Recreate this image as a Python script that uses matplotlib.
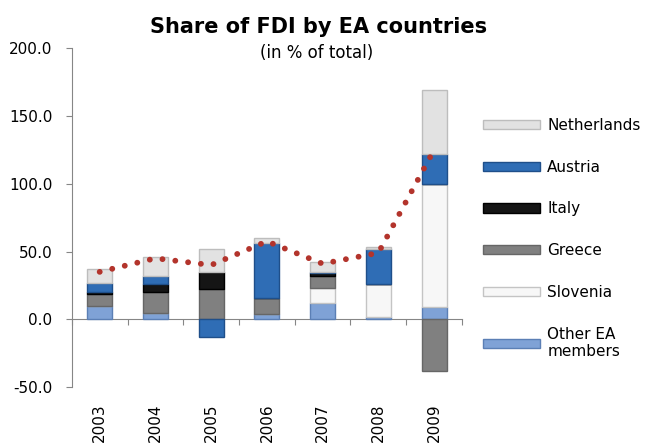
import matplotlib.pyplot as plt
from matplotlib.patches import Patch
import numpy as np

years = ['2003', '2004', '2005', '2006', '2007', '2008', '2009']
other_ea = [10, 5, 0, 4, 12, 2, 9]
slovenia = [0, 0, 0, 0, 11, 24, 91]
greece = [9, 15, 22, 12, 9, 0, -38]
italy = [1, 6, 13, 0, 2, 0, 0]
austria = [7, 6, -13, 40, 1, 26, 22]
netherlands = [10, 14, 17, 4, 7, 1, 47]
total = [35, 45, 40, 57.5, 41, 49, 125]

# stacking order bottom -> top
series = [
    ('Other EA\nmembers', other_ea, '#7fa2d6', '#5b7fb5'),
    ('Slovenia', slovenia, '#f7f7f7', '#c4c4c4'),
    ('Greece', greece, '#808080', '#666666'),
    ('Italy', italy, '#151515', '#000000'),
    ('Austria', austria, '#2f6db5', '#1f4f8a'),
    ('Netherlands', netherlands, '#e2e2e2', '#bdbdbd'),
]

fig = plt.figure(figsize=(6.47, 4.45), dpi=100)
ax = fig.add_axes([0.111, 0.130, 0.603, 0.762])

x = np.arange(len(years))
pos_base = np.zeros(len(years))
neg_base = np.zeros(len(years))
for name, vals, fc, ec in series:
    v = np.array(vals, dtype=float)
    base = np.where(v >= 0, pos_base, neg_base)
    ax.bar(x, v, bottom=base, width=0.45, color=fc, edgecolor=ec, linewidth=1, zorder=2)
    pos_base += np.where(v > 0, v, 0)
    neg_base += np.where(v < 0, v, 0)

ax.plot(x, total, color='#b3342c', linewidth=4.2, linestyle=(0, (0.01, 2.2)),
        dash_capstyle='round', zorder=3)

ax.set_xlim(-0.5, len(years) - 0.5)
ax.set_ylim(-50, 200)
ax.set_yticks([-50, 0, 50, 100, 150, 200])
ax.set_yticklabels(['-50.0', '0.0', '50.0', '100.0', '150.0', '200.0'])

for s in ['top', 'right', 'bottom']:
    ax.spines[s].set_visible(False)
ax.spines['left'].set_color('#868686')
ax.tick_params(axis='y', colors='#868686', labelcolor='black', labelsize=11, length=4, pad=10)

ax.set_xticks(x)
ax.set_xticklabels(years, rotation=90, fontsize=11)
ax.tick_params(axis='x', length=0, pad=12)

# zero axis line with category boundary ticks
zero_frac = 50 / 250
sec = ax.secondary_xaxis(zero_frac)
sec.set_xticks(np.arange(-0.5, len(years), 1))
sec.set_xticklabels([])
sec.spines['bottom'].set_color('#868686')
sec.tick_params(axis='x', colors='#868686', length=4, direction='out')

fig.text(0.492, 0.940, 'Share of FDI by EA countries', ha='center', va='center',
         fontsize=15, fontweight='bold')
fig.text(0.489, 0.880, '(in % of total)', ha='center', va='center', fontsize=12)

handles = [Patch(facecolor=fc, edgecolor=ec, label=name) for name, _, fc, ec in reversed(series)]
fig.legend(handles=handles, loc='upper left', bbox_to_anchor=(483 / 647, 1 - 118 / 445),
           frameon=False, fontsize=11, handlelength=3.7, handleheight=0.55,
           handletextpad=0.5, labelspacing=1.75, borderpad=0, borderaxespad=0)

fig.savefig('out.png', dpi=100)
